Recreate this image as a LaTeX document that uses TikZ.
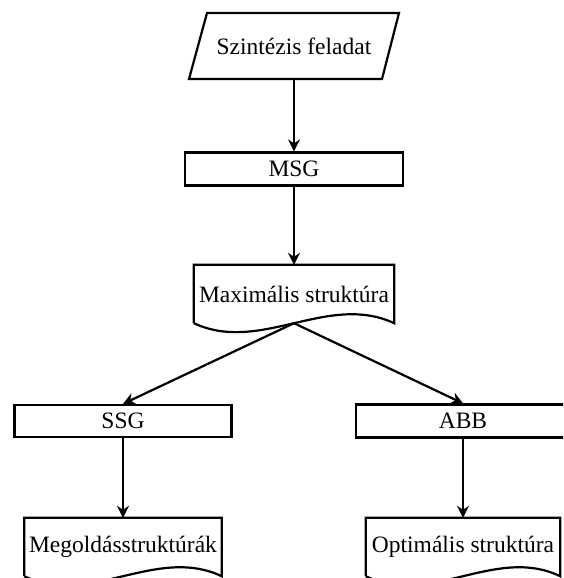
\documentclass[tikz,border=0pt]{standalone}
\usepackage{fontspec}
\setmainfont{Liberation Serif}
\usetikzlibrary{arrows.meta,calc}

\tikzset{
  flow/.style={line width=2.2pt, -{Stealth[length=12pt,width=12pt,inset=4pt]}},
  label font/.style={font=\fontsize{23.5}{26}\selectfont},
  box/.style={draw, line width=2.2pt, rectangle, inner sep=0pt, label font},
  doctext/.style={rectangle, inner sep=0pt, label font},
  outline/.style={draw, line width=2.2pt, line join=miter},
}

% document symbol: straight top and sides, wavy bottom
\newcommand\docoutline[1]{%
  \draw[outline] (#1.south west) |- (#1.north east) -- (#1.south east)
    .. controls ($(#1.south east)!1/3!(#1.south west)+(0,-31)$)
       and ($(#1.south east)!2/3!(#1.south west)+(0,31)$) .. (#1.south west);
}

\begin{document}
\begin{tikzpicture}[x=1pt,y=-1pt]
  \clip (0,0) rectangle (563,578);
  \fill[white] (0,0) rectangle (563,578);

  % input: parallelogram
  \node[doctext, minimum width=190pt, minimum height=66pt] (task) at (294,46) {Szintézis feladat};
  \draw[outline] (189,79) -- (207,13) -- (399,13) -- (382,79) -- cycle;

  % processing steps
  \node[box, minimum width=218pt, minimum height=33pt] (msg) at (294,169) {MSG};
  \node[doctext, minimum width=200pt, minimum height=58pt] (maxs) at (294,294) {Maximális struktúra};
  \docoutline{maxs}

  \node[box, minimum width=217pt, minimum height=32pt] (ssg) at (123,421) {SSG};
  \node[box, minimum width=214pt, minimum height=33pt] (abb) at (463,421) {ABB};

  \node[doctext, minimum width=197pt, minimum height=58pt] (sol) at (123,547) {Megoldásstruktúrák};
  \docoutline{sol}
  \node[doctext, minimum width=194pt, minimum height=58pt] (opt) at (463,547) {Optimális struktúra};
  \docoutline{opt}

  % connectors
  \draw[flow] (task.south) -- (msg.north);
  \draw[flow] (msg.south) -- (maxs.north);
  \draw[flow] (maxs.south) -- (ssg.north);
  \draw[flow] (maxs.south) -- (abb.north);
  \draw[flow] (ssg.south) -- (sol.north);
  \draw[flow] (abb.south) -- (opt.north);
\end{tikzpicture}
\end{document}
